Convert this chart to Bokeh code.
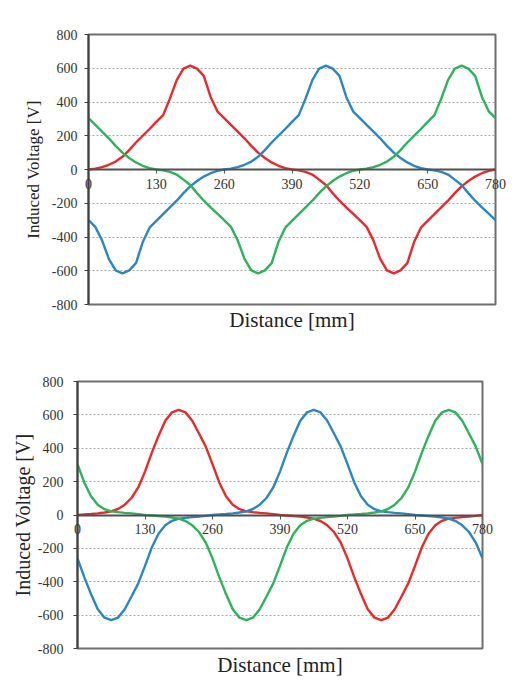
from bokeh.plotting import figure
from bokeh.models import FixedTicker, Range1d, Title, Label, Spacer
from bokeh.layouts import column, row
from bokeh.embed import file_html
from bokeh.resources import INLINE

# ---------------- data ----------------
distance = list(range(0, 781, 13))   # mm, sampling positions

x_ticks = [0, 130, 260, 390, 520, 650, 780]
x_tick_labels = ["0", "130", "260", "390", "520", "650", "780"]
y_ticks = [-800, -600, -400, -200, 0, 200, 400, 600, 800]

# top chart (trapezoidal-like induced voltage)
red_top = [0, 5, 14, 28, 47, 75, 115, 160, 200, 240, 282, 322, 420, 530, 598, 616, 598, 555, 430, 345,
           305, 265, 225, 185, 140, 100, 68, 42, 22, 8, 0, -5, -14, -30, -60, -92, -140, -185, -225, -262,
           -300, -340, -420, -530, -598, -616, -598, -555, -430, -345, -305, -265, -225, -185, -140, -100,
           -68, -42, -22, -8, 0]
blue_top = [-300, -340, -420, -530, -598, -616, -598, -555, -430, -345, -305, -265, -225, -185, -140, -100,
            -68, -42, -22, -8, 0, 5, 14, 28, 47, 75, 115, 160, 200, 240, 282, 322, 420, 530, 598, 616, 598,
            555, 430, 345, 305, 265, 225, 185, 140, 100, 68, 42, 22, 8, 0, -5, -14, -30, -60, -92, -140,
            -185, -225, -262, -300]
green_top = [305, 265, 225, 185, 140, 100, 68, 42, 22, 8, 0, -5, -14, -30, -60, -92, -140, -185, -225, -262,
             -300, -340, -420, -530, -598, -616, -598, -555, -430, -345, -305, -265, -225, -185, -140, -100,
             -68, -42, -22, -8, 0, 5, 14, 28, 47, 75, 115, 160, 200, 240, 282, 322, 420, 530, 598, 616, 598,
             555, 430, 345, 305]

# bottom chart (sinusoidal-like induced voltage)
red_bot = [0, 3, 6, 10, 15, 22, 36, 62, 102, 165, 260, 372, 474, 565, 615, 630, 615, 565, 488, 410,
           305, 195, 112, 62, 35, 22, 17, 13, 10, 5, 0, -3, -6, -10, -15, -22, -36, -62, -102, -165,
           -260, -372, -474, -565, -615, -630, -615, -565, -488, -410, -305, -195, -112, -62, -35, -22,
           -17, -13, -10, -5, 0]
blue_bot = [-260, -372, -474, -565, -615, -630, -615, -565, -488, -410, -305, -195, -112, -62, -35, -22,
            -17, -13, -10, -5, 0, 3, 6, 10, 15, 22, 36, 62, 102, 165, 260, 372, 474, 565, 615, 630, 615,
            565, 488, 410, 305, 195, 112, 62, 35, 22, 17, 13, 10, 5, 0, -3, -6, -10, -15, -22, -36, -62,
            -102, -165, -260]
green_bot = [305, 195, 112, 62, 35, 22, 17, 13, 10, 5, 0, -3, -6, -10, -15, -22, -36, -62, -102, -165,
             -260, -372, -474, -565, -615, -630, -615, -565, -488, -410, -305, -195, -112, -62, -35, -22,
             -17, -13, -10, -5, 0, 3, 6, 10, 15, 22, 36, 62, 102, 165, 260, 372, 474, 565, 615, 630, 615,
             565, 488, 410, 305]

RED = "#ea2a2a"
BLUE = "#2b86c6"
GREEN = "#2eb35c"

TICK_FONT = "Liberation Serif"
LABEL_FONT = "Liberation Serif"


def make_chart(series, fw, fh, bl, br, bt, bb, ylabel_size, ystandoff, ylabstand, tstand):
    p = figure(frame_width=fw, frame_height=fh, x_range=Range1d(0, 780), y_range=Range1d(-800, 800),
               output_backend="svg", toolbar_location=None,
               min_border_left=bl, min_border_right=br, min_border_top=bt, min_border_bottom=bb)
    p.background_fill_color = "white"
    p.border_fill_color = "white"
    p.outline_line_color = "#6e6e6e"
    p.outline_line_width = 2

    for ys, c in series:
        p.line(distance, ys, line_color=c, line_width=2.4)

    # x axis drawn at y = 0
    xa = p.xaxis[0]
    xa.fixed_location = 0
    xa.ticker = FixedTicker(ticks=x_ticks)
    xa.axis_line_color = "#505050"
    xa.axis_line_width = 2
    xa.major_tick_line_color = "#505050"
    xa.major_tick_out = 4
    xa.major_tick_in = 0
    xa.minor_tick_line_color = None
    xa.major_label_text_color = None

    ya = p.yaxis[0]
    ya.ticker = FixedTicker(ticks=y_ticks)
    ya.major_label_overrides = {v: str(v) for v in y_ticks}
    ya.axis_line_color = "#404040"
    ya.axis_line_width = 2
    ya.major_tick_line_color = "#404040"
    ya.major_tick_out = 4
    ya.major_tick_in = 0
    ya.minor_tick_line_color = None
    ya.major_label_standoff = ystandoff
    ya.major_label_text_font = TICK_FONT
    ya.major_label_text_font_size = "14px"
    ya.major_label_text_color = "#333333"
    ya.axis_label = "Induced Voltage [V]"
    ya.axis_label_text_font = LABEL_FONT
    ya.axis_label_text_font_size = ylabel_size
    ya.axis_label_text_font_style = "normal"
    ya.axis_label_text_color = "#222222"
    ya.axis_label_standoff = ylabstand

    p.xgrid.grid_line_color = None
    p.ygrid.grid_line_color = "#a8a8a8"
    p.ygrid.grid_line_dash = "2 2"
    p.ygrid.grid_line_width = 1

    t = Title(text="Distance [mm]", align="center", text_font=LABEL_FONT, text_font_size="21px",
              text_font_style="normal", text_color="#222222", standoff=tstand)
    p.add_layout(t, "below")

    # x tick labels next to the zero line; the two end labels go to a side panel so the
    # frame does not clip them
    n = len(x_ticks)
    for i, (v, s) in enumerate(zip(x_ticks, x_tick_labels)):
        lab = Label(x=v, y=0, text=s, text_align="center", text_baseline="top",
                    y_offset=-9, text_font=TICK_FONT, text_font_size="14px",
                    text_color="#333333")
        if i == 0 or i == n - 1:
            p.add_layout(lab, "below")
        else:
            p.add_layout(lab)
    return p


p1 = make_chart([(red_top, RED), (blue_top, BLUE), (green_top, GREEN)],
                407, 270, 77, 20, 34, 44, "17px", 7, 6, 3)
p2 = make_chart([(red_bot, RED), (blue_bot, BLUE), (green_bot, GREEN)],
                405, 267, 77, 20, 28, 43, "20px", 10, 1, 4)

layout = column(row(Spacer(width=11, height=10), p1), p2)
open("out.html", "w").write(file_html(layout, INLINE))
